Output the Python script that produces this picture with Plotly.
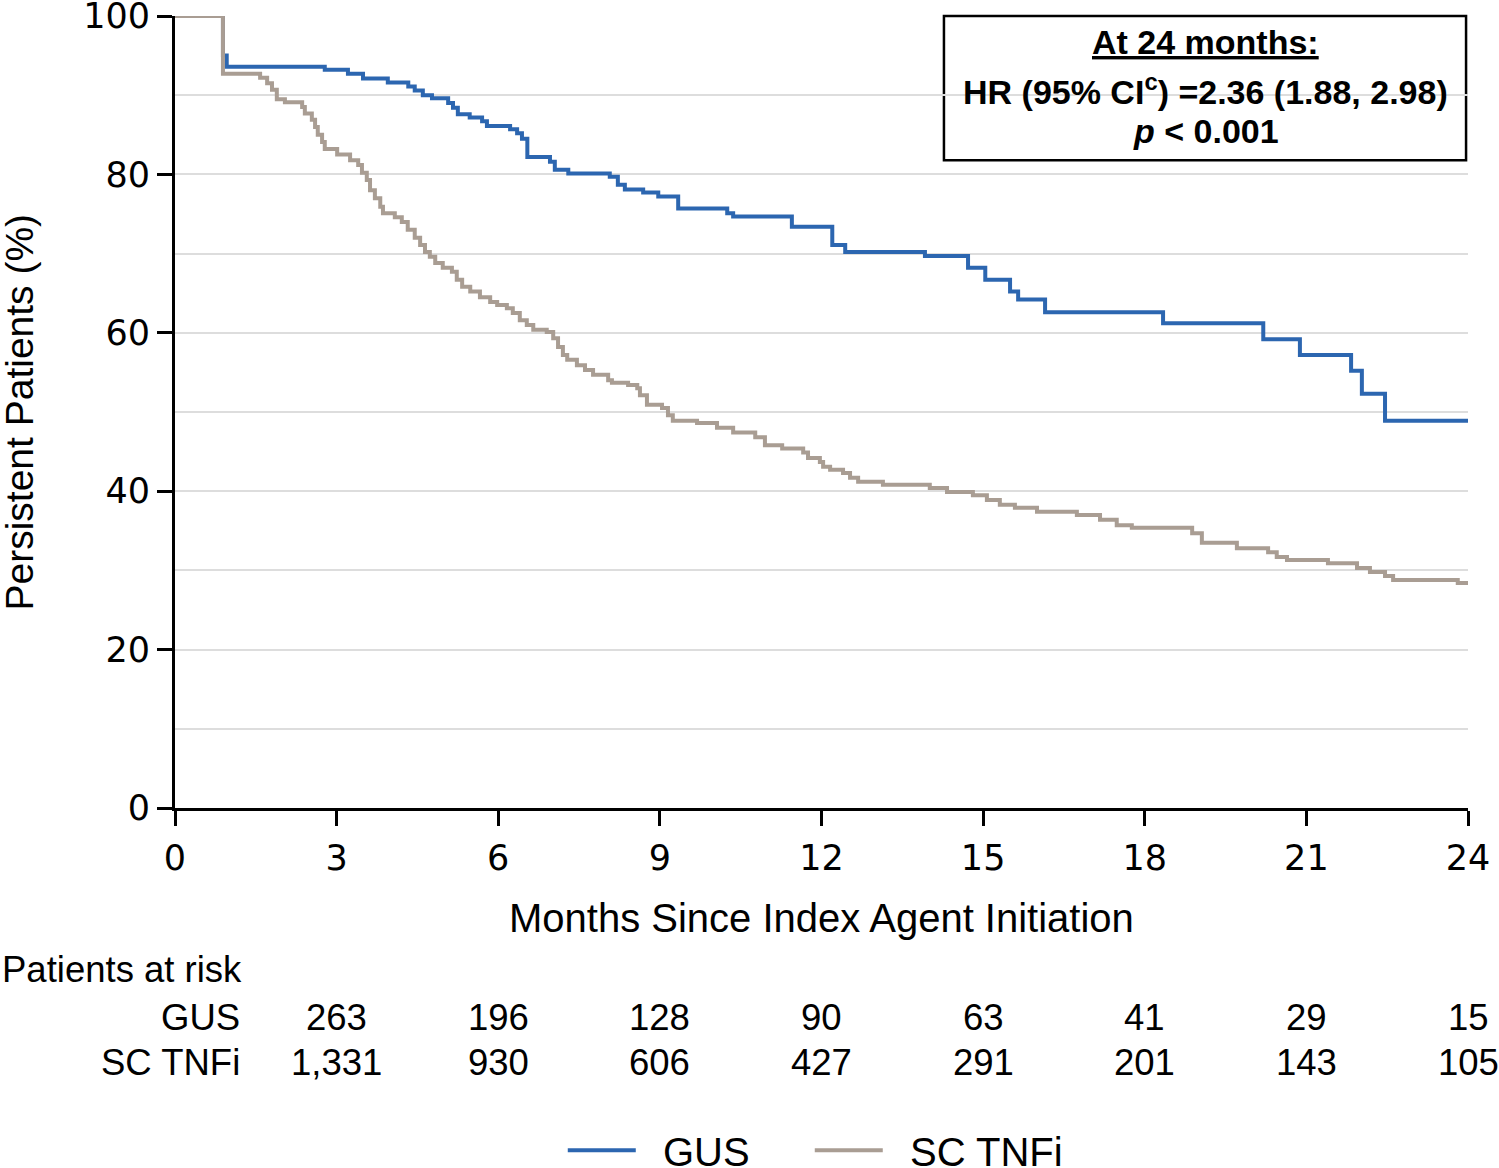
import plotly.graph_objects as go

# ---- data ----
gus_t = [0, 0.89, 0.96, 2.78, 3.21, 3.49, 3.95, 4.33, 4.45, 4.60, 4.77, 5.07, 5.16, 5.25, 5.47,
         5.70, 5.79, 6.22, 6.35, 6.44, 6.54, 6.96, 7.05, 7.30, 8.07, 8.22, 8.35, 8.69, 8.97,
         9.34, 10.25, 10.36, 11.45, 12.20, 12.44, 13.92, 14.72, 15.04, 15.50, 15.65, 16.15,
         18.34, 20.20, 20.88, 21.83, 22.03, 22.46, 24.0]
gus_s = [100, 95.0, 93.6, 93.2, 92.7, 92.1, 91.6, 91.1, 90.6, 90.0, 89.6, 89.0, 88.4, 87.6, 87.2,
         86.7, 86.1, 85.7, 85.2, 84.5, 82.2, 81.6, 80.6, 80.1, 79.7, 78.7, 78.1, 77.7, 77.2,
         75.7, 75.1, 74.7, 73.4, 71.1, 70.2, 69.7, 68.2, 66.7, 65.2, 64.2, 62.6,
         61.2, 59.2, 57.2, 55.2, 52.3, 48.9, 48.9]

tnf_t = [0, 0.89, 1.58, 1.71, 1.80, 1.89, 2.04, 2.36, 2.41, 2.54, 2.60, 2.65, 2.73, 2.78, 3.01,
         3.25, 3.40, 3.47, 3.56, 3.62, 3.71, 3.81, 3.86, 4.08, 4.21, 4.32, 4.45, 4.55, 4.64,
         4.73, 4.83, 4.97, 5.14, 5.23, 5.33, 5.48, 5.66, 5.85, 5.98, 6.16, 6.27, 6.40, 6.53,
         6.65, 6.90, 7.02, 7.11, 7.20, 7.28, 7.46, 7.61, 7.76, 8.04, 8.11, 8.41, 8.58, 8.63,
         8.76, 9.04, 9.15, 9.24, 9.69, 10.06, 10.36, 10.77, 10.95, 11.27, 11.66, 11.75, 11.97,
         12.03, 12.16, 12.40, 12.53, 12.68, 13.14, 14.01, 14.33, 14.81, 15.07, 15.31, 15.59,
         16.00, 16.74, 17.17, 17.48, 17.76, 18.88, 19.06, 19.71, 20.29, 20.45, 20.64, 21.40,
         21.94, 22.18, 22.46, 22.61, 23.81, 24.0]
tnf_s = [100, 92.7, 92.2, 91.5, 90.7, 89.5, 89.1, 88.5, 87.7, 86.9, 86.0, 85.0, 84.1, 83.2, 82.5,
         81.8, 81.2, 80.2, 79.3, 78.0, 77.0, 75.9, 75.1, 74.6, 74.0, 73.0, 72.0, 71.1, 70.2,
         69.6, 68.8, 68.2, 67.7, 66.7, 65.8, 65.2, 64.5, 63.9, 63.5, 63.1, 62.5, 61.6, 61.0,
         60.4, 60.1, 59.3, 58.2, 57.2, 56.6, 55.9, 55.3, 54.7, 54.0, 53.7, 53.4, 53.0, 52.1,
         50.9, 50.5, 49.6, 48.9, 48.6, 48.0, 47.4, 46.8, 45.8, 45.4, 44.9, 44.2, 43.7,
         43.1, 42.7, 42.3, 41.7, 41.2, 40.8, 40.4, 39.9, 39.5, 38.9, 38.3, 37.9,
         37.4, 37.0, 36.4, 35.7, 35.4, 34.7, 33.5, 32.8, 32.3, 31.7, 31.3, 30.9,
         30.3, 29.8, 29.3, 28.8, 28.4, 28.4]

risk_months = [3, 6, 9, 12, 15, 18, 21, 24]
risk_gus = ["263", "196", "128", "90", "63", "41", "29", "15"]
risk_tnf = ["1,331", "930", "606", "427", "291", "201", "143", "105"]
x_ticks = [0, 3, 6, 9, 12, 15, 18, 21, 24]
y_ticks = [0, 20, 40, 60, 80, 100]

BLUE = "#2C66B0"
GREY = "#A99D93"
TXT = "Liberation Sans, Arial, sans-serif"
TICKF = "DejaVu Sans, sans-serif"
NB = "\u00a0\u00a0"
TS = 36.5

fig = go.Figure()
fig.add_trace(go.Scatter(x=gus_t, y=gus_s, mode="lines", name=NB + "GUS", legendwidth=164,
                         line=dict(color=BLUE, width=4, shape="hv")))
fig.add_trace(go.Scatter(x=tnf_t, y=tnf_s, mode="lines", name=NB + "SC TNFi", legendwidth=220,
                         line=dict(color=GREY, width=4, shape="hv")))

ann = []
# axis titles
ann.append(dict(text="Months Since Index Agent Initiation", x=0.5, y=-0.139, xref="paper", yref="paper",
                showarrow=False, font=dict(family=TXT, size=40, color="black"),
                xanchor="center", yanchor="middle"))
ann.append(dict(text="Persistent Patients (%)", x=-0.121, y=0.5, xref="paper", yref="paper",
                showarrow=False, textangle=-90, font=dict(family=TXT, size=39, color="black"),
                xanchor="center", yanchor="middle"))
# at-risk table
ann.append(dict(text="Patients at risk", x=-0.135, y=-0.2045, xref="paper", yref="paper",
                showarrow=False, font=dict(family=TXT, size=TS, color="black"),
                xanchor="left", yanchor="middle"))
ann.append(dict(text="GUS", x=0.0515, y=-0.264, xref="paper", yref="paper", showarrow=False,
                font=dict(family=TXT, size=TS, color="black"), xanchor="right", yanchor="middle"))
ann.append(dict(text="SC TNFi", x=0.0515, y=-0.321, xref="paper", yref="paper", showarrow=False,
                font=dict(family=TXT, size=TS, color="black"), xanchor="right", yanchor="middle"))
for m, g, t in zip(risk_months, risk_gus, risk_tnf):
    ann.append(dict(text=g, x=m, y=-0.264, xref="x", yref="paper", showarrow=False,
                    font=dict(family=TXT, size=TS, color="black"), xanchor="center", yanchor="middle"))
    ann.append(dict(text=t, x=m, y=-0.321, xref="x", yref="paper", showarrow=False,
                    font=dict(family=TXT, size=TS, color="black"), xanchor="center", yanchor="middle"))
# HR box text
ann.append(dict(text="<b><u>At 24 months:</u></b>", x=0.797, y=0.967, xref="paper", yref="paper",
                showarrow=False, font=dict(family=TXT, size=34, color="black"),
                xanchor="center", yanchor="middle"))
ann.append(dict(text="<b>HR (95% CI<sup>c</sup>) =2.36 (1.88, 2.98)</b>", x=0.797, y=0.9066,
                xref="paper", yref="paper", showarrow=False,
                font=dict(family=TXT, size=34, color="black"), xanchor="center", yanchor="middle"))
ann.append(dict(text="<b><i>p</i> &lt; 0.001</b>", x=0.797, y=0.8548, xref="paper", yref="paper",
                showarrow=False, font=dict(family=TXT, size=34, color="black"),
                xanchor="center", yanchor="middle"))

fig.update_layout(
    width=1499, height=1168,
    margin=dict(l=175, r=31, t=16, b=360, autoexpand=False),
    paper_bgcolor="white", plot_bgcolor="white",
    showlegend=True,
    legend=dict(orientation="h", x=0.2999, y=-0.432, xanchor="left", yanchor="middle",
                font=dict(family=TXT, size=40, color="black"), itemwidth=68,
                entrywidthmode="pixels",
                bgcolor="rgba(0,0,0,0)", tracegroupgap=0),
    annotations=ann,
    shapes=[dict(type="rect", xref="paper", yref="paper", x0=0.5947, x1=0.9985, y0=0.818, y1=1.0,
                 line=dict(color="black", width=2.5), fillcolor="white", layer="below")],
    xaxis=dict(range=[0, 24], tickvals=x_ticks, ticktext=[str(v) for v in x_ticks],
               showgrid=False, zeroline=False, showline=True, linecolor="black", linewidth=3,
               ticks="outside", ticklen=15, tickwidth=2.5, tickcolor="black",
               ticklabelstandoff=2, ticklabeloverflow="allow",
               tickfont=dict(family=TICKF, size=35, color="black")),
    yaxis=dict(range=[0, 100], tickvals=y_ticks, showgrid=True, gridcolor="#DDDDDD", gridwidth=2,
               minor=dict(dtick=10, showgrid=True, gridcolor="#DDDDDD", gridwidth=2, ticks=""),
               zeroline=False, showline=True, linecolor="black", linewidth=3,
               ticks="outside", ticklen=15, tickwidth=2.5, tickcolor="black",
               ticklabeloverflow="allow",
               tickfont=dict(family=TICKF, size=35, color="black")),
)

fig.write_html("out.html", config={"displayModeBar": False},
               post_script="document.body.style.margin='0px';")
